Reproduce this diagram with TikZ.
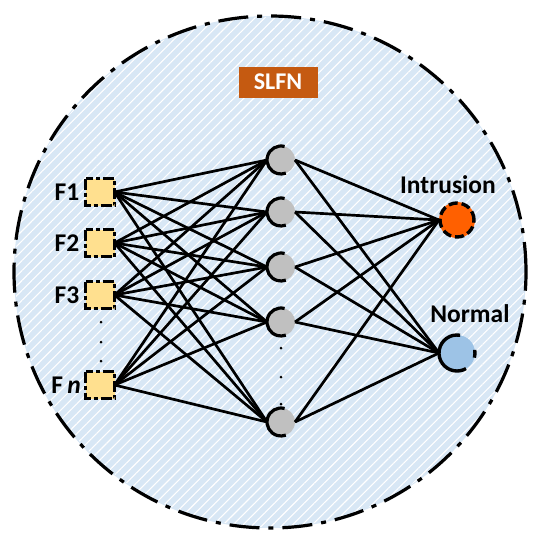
\documentclass[tikz,border=0pt]{standalone}
\usepackage{fontspec}
\setmainfont{Carlito}
\usetikzlibrary{patterns.meta}
\definecolor{bgblue}{HTML}{D8E7F5}
\definecolor{inyellow}{HTML}{FFE08F}
\definecolor{hidgray}{HTML}{C0C0C0}
\definecolor{slfn}{HTML}{C55A11}
\definecolor{intr}{HTML}{FF6000}
\definecolor{norm}{HTML}{9DC3E6}
\begin{document}
\begin{tikzpicture}[x=1pt,y=1pt,
  inbox/.style={rectangle, fill=inyellow, minimum width=29pt, minimum height=27pt, inner sep=0pt, outer sep=0pt},
  inborder/.style={line width=2.6pt, dash pattern=on 11pt off 3pt on 4pt off 3pt},
  hid/.style={circle, fill=hidgray, minimum size=28pt, inner sep=0pt, outer sep=0pt},
  hidarc/.style={line width=3.2pt},
  outnode/.style={circle, minimum size=36pt, inner sep=0pt, outer sep=0pt},
  lbl/.style={font=\bfseries\fontsize{25.5}{28}\selectfont},
  conn/.style={line width=2.7pt},
  dotmark/.style={fill=black},
]
\useasboundingbox (0,0) rectangle (542,-550);
% background circle
\fill[bgblue] (270,-272) circle[radius=256];
\fill[pattern={Lines[angle=45,distance=7pt,line width=1.1pt]}, pattern color=white] (270,-272) circle[radius=255];
\draw[line width=3.2pt, dash pattern=on 30pt off 9pt on 5pt off 9pt] (270,-272) circle[radius=256];

% title
\node[fill=slfn, text=white, minimum width=79pt, minimum height=31pt, inner sep=0pt,
      font=\bfseries\fontsize{24}{26}\selectfont] (title) at (278,-82) {SLFN};

% input nodes
\node[inbox] (in1) at (100,-192) {};
\node[inbox] (in2) at (100,-243) {};
\node[inbox] (in3) at (100,-295) {};
\node[inbox] (in4) at (100,-385) {};
\foreach \i in {1,2,3,4}{
  \draw[inborder] (in\i.north west) rectangle (in\i.south east);
}
\node[lbl] (l1) at (67,-192) {F1};
\node[lbl] (l2) at (67,-243) {F2};
\node[lbl] (l3) at (67,-295) {F3};
\node[lbl] (l4) at (66,-385) {F\,\textit{n}};
\fill[dotmark] (101,-322) circle[radius=1.5];
\fill[dotmark] (101,-342) circle[radius=1.5];
\fill[dotmark] (101,-361) circle[radius=1.5];

% hidden nodes
\node[hid] (h1) at (281,-160) {};
\node[hid] (h2) at (281,-212) {};
\node[hid] (h3) at (281,-267) {};
\node[hid] (h4) at (281,-322) {};
\node[hid] (h5) at (281,-422) {};
\fill[dotmark] (281,-348) circle[radius=1.5];
\fill[dotmark] (281,-377) circle[radius=1.5];
\fill[dotmark] (281,-404) circle[radius=1.5];

% output nodes
\node[outnode, fill=intr] (o1) at (457,-220) {};
\node[outnode, fill=norm] (o2) at (457,-353) {};
\node[lbl] (lo1) at (448,-185) {Intrusion};
\node[lbl] (lo2) at (470,-314) {Normal};

% connections
\foreach \i in {1,2,3,4}{
  \foreach \j in {1,2,3,4,5}{
    \draw[conn] (in\i.east) -- (h\j.west);
  }
}
\foreach \j in {1,2,3,4,5}{
  \foreach \k in {1,2}{
    \draw[conn] (h\j.east) -- (o\k.west);
  }
}

% hidden borders
\foreach \j in {1,2,3,4,5}{
  \draw[hidarc] (h\j.75) arc[start angle=75, end angle=290, radius=14];
}
% output borders
\draw[line width=3.4pt, dash pattern=on 9pt off 4pt] (o1.center) circle[radius=17];
\draw[line width=3.4pt] (o2.80) arc[start angle=80, end angle=300, radius=18];
\draw[line width=3.4pt] (o2.10) arc[start angle=10, end angle=-15, radius=18];
\end{tikzpicture}
\end{document}
